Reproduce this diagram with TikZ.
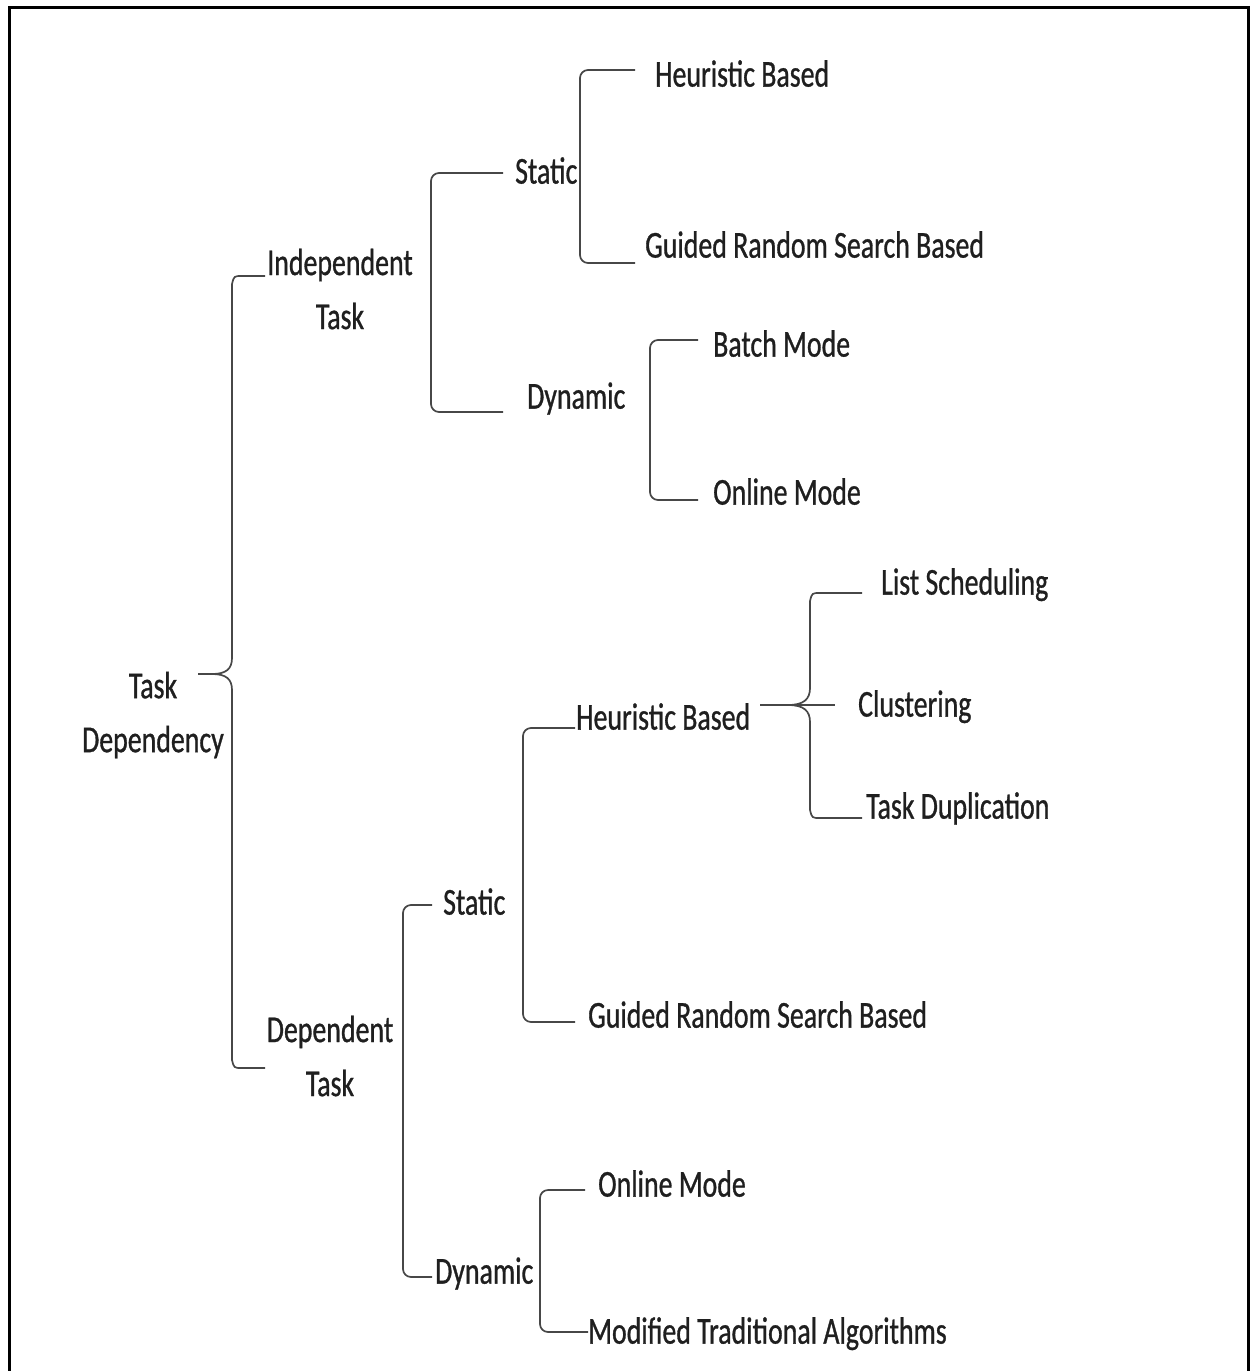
\documentclass[tikz,border=0pt]{standalone}
\usepackage{fontspec}
\setmainfont{Carlito}[FakeStretch=0.733,FakeBold=0.8]
\begin{document}
\begin{tikzpicture}[x=1pt,y=-1pt,
  lbl/.style={inner sep=0pt, anchor=west, yshift=-9pt, text=black!88,
    font=\fontsize{38}{54}\selectfont, text height=0.72em, text depth=0.2em},
  multi/.style={inner sep=0pt, align=center, text=black!88,
    font=\fontsize{38}{54}\selectfont},
  br/.style={draw=black!72, line width=1.7pt, rounded corners=8pt},
  cbr/.style={draw=black!72, line width=1.7pt}]
\clip (0,0) rectangle (1254,1371);
% outer frame
\draw[line width=3pt] (9,7) rectangle (1248,1390);

% labels
\node[multi] (root)   at (153,715)  {Task\\Dependency};
\node[multi] (indep)  at (340,289)  {Independent\\Task};
\node[multi] (dep)    at (330,1056) {Dependent\\Task};
\node[lbl] (static1)  at (515,172)  {Static};
\node[lbl] (dynamic1) at (527,397)  {Dynamic};
\node[lbl] (hb1)      at (655,75)   {Heuristic Based};
\node[lbl] (grs1)     at (645,246)  {Guided Random Search Based};
\node[lbl] (batch)    at (713,345)  {Batch Mode};
\node[lbl] (online1)  at (713,493)  {Online Mode};
\node[lbl] (static2)  at (443,903)  {Static};
\node[lbl] (dynamic2) at (435,1272) {Dynamic};
\node[lbl] (hb2)      at (576,718)  {Heuristic Based};
\node[lbl] (grs2)     at (588,1016) {Guided Random Search Based};
\node[lbl] (online2)  at (598,1185) {Online Mode};
\node[lbl] (mta)      at (588,1332) {Modified Traditional Algorithms};
\node[lbl] (list)     at (881,583)  {List Scheduling};
\node[lbl] (clust)    at (858,705)  {Clustering};
\node[lbl] (dup)      at (866,807)  {Task Duplication};

% bar positions (midpoints of the vertical strokes)
\coordinate (barIndep)  at (431,290);
\coordinate (barS1)     at (580,166);
\coordinate (barD1)     at (650,420);
\coordinate (barDep)    at (403,1090);
\coordinate (barS2)     at (523,875);
\coordinate (barD2)     at (540,1260);

% square brackets
\draw[br] ([shift={(-12,-8)}]static1.west)  -| (barIndep) |- ([shift={(-24,6)}]dynamic1.west);
\draw[br] ([shift={(-20,-14)}]hb1.west)     -| (barS1)    |- ([shift={(-10,8)}]grs1.west);
\draw[br] ([shift={(-15,-14)}]batch.west)   -| (barD1)    |- ([shift={(-15,-2)}]online1.west);
\draw[br] ([shift={(-11,-7)}]static2.west)  -| (barDep)   |- ([shift={(-3,-4)}]dynamic2.west);
\draw[br] ([shift={(-1,1)}]hb2.west)        -| (barS2)    |- ([shift={(-13,-3)}]grs2.west);
\draw[br] ([shift={(-13,-4)}]online2.west)  -| (barD2)    |- ([shift={(0,-9)}]mta.west);

% root curly brace
\coordinate (rtop) at (265,276);
\coordinate (rbot) at (265,1068);
\coordinate (rtip) at (198,674);
\draw[cbr] (rtop) -- (242,276) .. controls (234,276) .. (232,284) -- (232,658)
  .. controls (232,669) and (226,674) .. (212,674) -- (rtip);
\draw[cbr] (rbot) -- (242,1068) .. controls (234,1068) .. (232,1060) -- (232,690)
  .. controls (232,679) and (226,674) .. (212,674);

% curly brace of the lower heuristic branch
\coordinate (htip) at (760,705);
\draw[cbr] ([shift={(-19,1)}]list.west) -- (820,593) .. controls (812,593) .. (810,601) -- (810,688)
  .. controls (810,699) and (804,705) .. (788,705) -- (htip);
\draw[cbr] ([shift={(-4,2)}]dup.west) -- (820,818) .. controls (812,818) .. (810,810) -- (810,722)
  .. controls (810,711) and (804,705) .. (788,705);
\draw[cbr] (htip) -- ([shift={(-23,-9)}]clust.west);
\end{tikzpicture}
\end{document}
